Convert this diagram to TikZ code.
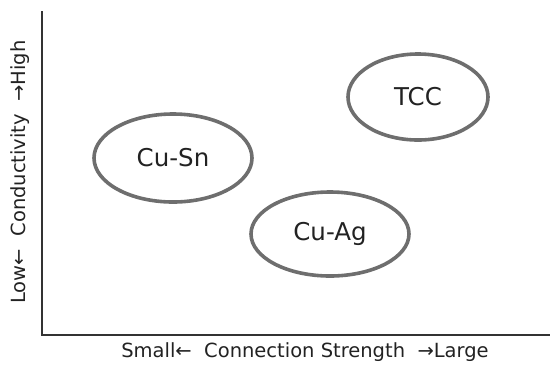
\documentclass[tikz,border=0pt]{standalone}
\usepackage{fontspec}
\setmainfont{DejaVu Sans}
\usetikzlibrary{shapes.geometric}
\definecolor{axisgray}{HTML}{333333}
\definecolor{ringgray}{HTML}{6E6E6E}
\definecolor{inkgray}{HTML}{222222}
\begin{document}
\begin{tikzpicture}[x=1pt,y=-1pt,
  axis/.style={draw=axisgray,line width=1.6pt},
  ring/.style={draw=ringgray,line width=3.6pt},
  tag/.style={text=inkgray,font=\fontsize{24.5}{28}\selectfont},
  axislabel/.style={text=inkgray,font=\fontsize{19.5}{23}\selectfont,inner sep=0pt}]
  \useasboundingbox (0,0) rectangle (551,365);
  % axes
  \coordinate (top) at (42,11);
  \coordinate (origin) at (42,335);
  \coordinate (right) at (550,335);
  \draw[axis] (top) -- (origin) -- (right);
  % material groups
  \draw[ring] (173,158) ellipse [x radius=79, y radius=44];
  \node[tag] (cusn) at (173,158) {Cu-Sn};
  \draw[ring] (330,234) ellipse [x radius=79, y radius=42];
  \node[tag] (cuag) at (330,234) {Cu-Ag};
  \draw[ring] (418,97) ellipse [x radius=70, y radius=43];
  \node[tag] (tcc) at (418,97) {TCC};
  % axis titles
  \node[axislabel] (xlab) at (305,352) {Small←\ \ Connection Strength\ \ →Large};
  \node[axislabel,rotate=90] (ylab) at (20,172) {Low←\ \ Conductivity\ \ →High};
\end{tikzpicture}
\end{document}
